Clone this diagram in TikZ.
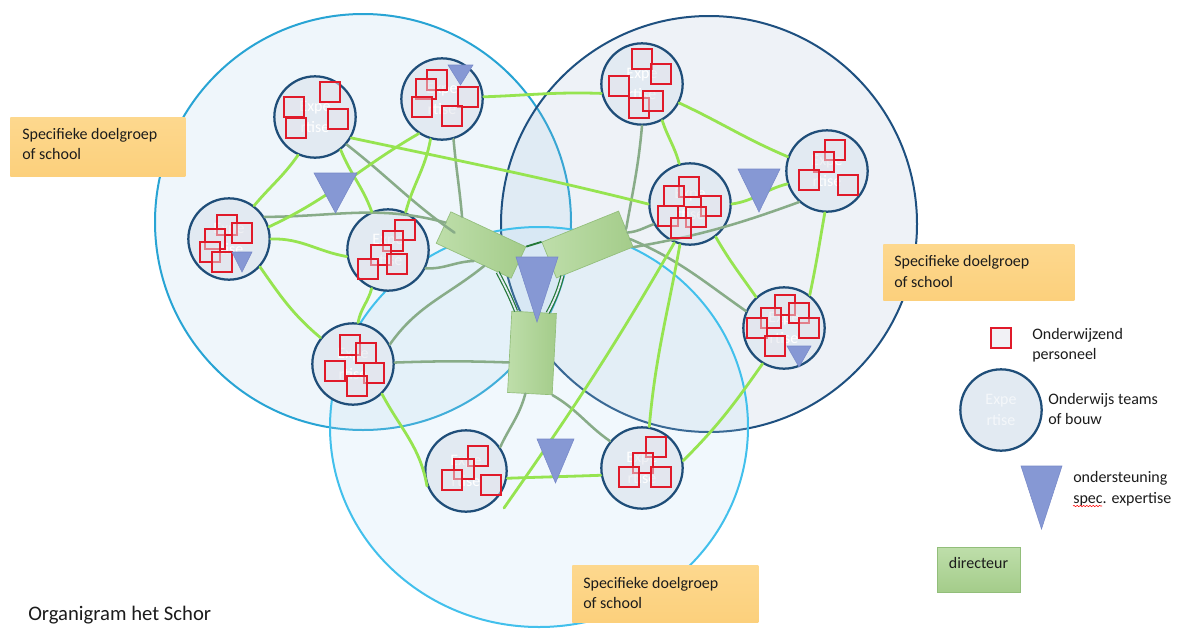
\documentclass[tikz,border=0pt]{standalone}
\usepackage{fontspec}
\setmainfont{Carlito}
\usetikzlibrary{calc,decorations.pathmorphing}
\definecolor{limeg}{RGB}{150,228,80}
\definecolor{grayg}{RGB}{136,172,136}
\definecolor{dkg}{RGB}{35,120,55}
\definecolor{teamb}{RGB}{31,78,121}
\definecolor{teamf}{RGB}{226,234,242}
\definecolor{sqred}{RGB}{224,26,42}
\definecolor{sqfill}{RGB}{228,228,236}
\definecolor{trif}{RGB}{134,152,212}
\definecolor{trid}{RGB}{118,136,200}
\definecolor{rectf}{RGB}{164,204,138}
\definecolor{rectl}{RGB}{190,222,170}
\definecolor{rectd}{RGB}{146,190,122}
\definecolor{boxo}{RGB}{252,208,124}
\definecolor{boxl}{RGB}{253,216,142}
\definecolor{txt}{RGB}{28,28,28}
\definecolor{bLb}{RGB}{40,164,212}
\definecolor{bRb}{RGB}{30,80,128}
\definecolor{bBb}{RGB}{66,192,236}
\definecolor{bLf}{RGB}{170,210,235}
\definecolor{bRf}{RGB}{150,180,210}
\definecolor{bBf}{RGB}{180,220,245}
\newcommand\mytri[4]{\filldraw[trist] (#1-#3/2,#2) -- (#1+#3/2,#2) -- (#1,#2+#4) -- cycle;}
\begin{document}
\begin{tikzpicture}[x=0.75pt,y=-0.75pt,
  bigL/.style={draw=bLb,line width=1.5pt,fill=bLf,fill opacity=0.18,draw opacity=1},
  bigR/.style={draw=bRb,line width=1.5pt,fill=bRf,fill opacity=0.16,draw opacity=1},
  bigB/.style={draw=bBb,line width=1.5pt,fill=bBf,fill opacity=0.18,draw opacity=1},
  team/.style={circle,draw=teamb,line width=1.7pt,fill=teamf,minimum size=61pt,inner sep=0pt,
    text=white,align=center,font=\fontsize{12}{15.5}\selectfont},
  tsq/.style={rectangle,draw=sqred,line width=1.5pt,fill=sqfill,fill opacity=0.5,draw opacity=1,
    minimum size=15.5pt,inner sep=0pt},
  trist/.style={fill=trif,draw=trid,line width=0.4pt},
  dir/.style={rectangle,draw=rectd,line width=0.5pt,left color=rectl,right color=rectf,inner sep=0pt},
  obox/.style={rectangle,top color=boxl,bottom color=boxo,inner sep=0pt,anchor=north west},
  lbl/.style={anchor=base west,inner sep=0pt,text=txt,font=\fontsize{12}{15}\selectfont},
  lime/.style={draw=limeg,line width=2.1pt,line cap=round},
  gline/.style={draw=grayg,line width=1.9pt,line cap=round},
  dkline/.style={draw=dkg,line width=0.9pt,double=teamf,double distance=1.3pt},
  dkone/.style={draw=dkg,line width=1.4pt}
]
\useasboundingbox (0,0) rectangle (1177,629);
\fill[white] (0,0) rectangle (1177,629);

% big circles (groups)
\path[bigL] (363,222) circle[radius=208];
\path[bigR] (709,224) circle[radius=208];
\path[bigB] (539,427) ellipse[x radius=209,y radius=200];

% team circles
\node[team] (tA) at (315,117) {Expe\\rtise};
\node[team] (tB) at (442,99) {Expe\\rtise};
\node[team] (tC) at (229,239) {Expe\\rtise};
\node[team] (tD) at (388,250) {Expe\\rtise};
\node[team] (tE) at (642,84) {Expe\\rtise};
\node[team] (tF) at (827,171) {Expe\\rtise};
\node[team] (tG) at (690,204) {Expe\\rtise};
\node[team] (tH) at (784,328) {Expe\\rtise};
\node[team] (tI) at (353,364) {Expe\\rtise};
\node[team] (tJ) at (466,471) {Expe\\rtise};
\node[team] (tK) at (642,468) {Expe\\rtise};

% directeur blocks
\node[dir,minimum width=62pt,minimum height=26pt,rotate=-25] (d1) at (481,245) {};
\node[dir,minimum width=62pt,minimum height=29pt,rotate=22] (d2) at (587.5,244.5) {};
\node[dir,minimum width=33.5pt,minimum height=61pt,rotate=-3] (d3) at (532,353) {};

% dark green links between directeur blocks
\draw[dkone] (d1.north east) -- (d2.north west);
\draw[dkline] ($(d1.south west)!0.82!(d1.south east)$) to[out=-62,in=112] ($(d3.north west)!0.1!(d3.north east)$);
\draw[dkline] ($(d2.south west)!0.08!(d2.south east)$) to[out=-105,in=62] ($(d3.north east)!0.2!(d3.north west)$);

% grey-green lines to directeur
\draw[gline] (tA.-41) to[out=-38,in=145] ($(d1.west)!0.15!(d1.east)$);
\draw[gline] (tB.-74) to[out=-85,in=95] ($(d1.north west)!0.15!(d1.north east)$);
\draw[gline] (tC.32) to[out=0,in=165] ($(d1.north west)!0.35!(d1.south west)$);
\draw[gline] (tD.-26) to[out=-3,in=182] (d1.south);
\draw[gline] (tI.28) to[out=55,in=-141] ($(d1.south west)!0.64!(d1.south east)$);
\draw[gline] (tI.2) to[out=2,in=178] ($(d3.north west)!0.63!(d3.south west)$);
\draw[gline] (tJ.35) to[out=65,in=-105] ($(d3.south west)!0.4!(d3.south east)$);
\draw[gline] (tK.140) to[out=145,in=-30] (d3.south east);
\draw[gline] (tE.-90) to[out=-95,in=80] (d2.east);
\draw[gline] (tG.-151) to[out=-160,in=5] ($(d2.north east)!0.6!(d2.south east)$);
\draw[gline] (tF.-132) to[out=-160,in=10] (d2.south east);
\draw[gline] (tH.156) to[out=145,in=-23] ($(d2.north east)!0.78!(d2.south east)$);

% light green links between teams
\coordinate (jEnd) at (504,508);
\draw[lime] (tA.-30) to[out=-12,in=166] (tG.180);
\draw[lime] (tA.-114) to[out=-125,in=50] (tC.53);
\draw[lime] (tA.-52) to[out=-68,in=110] (tD.113);
\draw[lime] (tB.-124) to[out=-150,in=25] (tC.17);
\draw[lime] (tB.-106) to[out=-100,in=75] (tD.65);
\draw[lime] (tB.3) to[out=2,in=178] (tE.-167);
\draw[lime] (tC.0) to[out=2,in=170] (tD.-171);
\draw[lime] (tC.-42) to[out=-55,in=140] (tI.141);
\draw[lime] (tD.-113) to[out=-105,in=80] (tI.83);
\draw[lime] (tI.-46) to[out=-62,in=100] (tJ.-159);
\draw[lime] (tJ.-10) to[out=2,in=182] (tK.190);
\draw[lime] (tG.-112) to[out=-120,in=55] (jEnd);
\draw[lime] (tG.-104) to[out=-100,in=85] (tK.80);
\draw[lime] (tE.-61) to[out=-72,in=105] (tG.105);
\draw[lime] (tE.-27) to[out=-25,in=157] (tF.160);
\draw[lime] (tG.0) to[out=8,in=-166] (tF.-162);
\draw[lime] (tF.-93) to[out=-100,in=78] (tH.52);
\draw[lime] (tG.-52) to[out=-60,in=125] (tH.132);
\draw[lime] (tH.-121) to[out=-125,in=45] (tK.10);

% teaching staff squares
\foreach \qx/\qy [count=\i] in {294/107,296/128,330/92,338/119,
  437/80,426/89,422/107,468/97,452/116,
  227/225,242/233,215/239,210/252,222/262,
  405/230,393/241,381/255,397/264,368/269,
  642/59,661/74,619/86,639/108,653/101,
  835/150,824/162,809/180,848/185,
  689/187,674/196,711/206,696/217,668/216,681/228,
  785/305,799/313,771/318,757/328,809/328,775/346,
  350/345,366/353,335/371,374/373,357/386,
  478/456,464/469,452/480,491/485,
  656/447,643/463,629/477,661/477}
{ \node[tsq] (sq\i) at (\qx,\qy) {}; }

% support triangles
\mytri{537}{257}{42}{65}
\mytri{335.5}{173}{43}{40}
\mytri{460.5}{65}{25}{20}
\mytri{242}{252}{20}{20}
\mytri{759}{169}{42}{43}
\mytri{799}{346}{24}{21}
\mytri{555.5}{439}{37}{44}

% group labels
\node[obox,minimum width=131.25pt,minimum height=44.25pt] (box1) at (10,117) {};
\node[lbl] (box1a) at (22,139) {Specifieke doelgroep};
\node[lbl] (box1b) at (22,159) {of school};
\node[obox,minimum width=143.25pt,minimum height=42pt] (box2) at (883,244) {};
\node[lbl] (box2a) at (894,266) {Specifieke doelgroep};
\node[lbl] (box2b) at (894,287) {of school};
\node[obox,minimum width=139.5pt,minimum height=42.75pt] (box3) at (572,565) {};
\node[lbl] (box3a) at (583,588) {Specifieke doelgroep};
\node[lbl] (box3b) at (583,608) {of school};

% legend
\node[tsq] (lsq) at (1001,338) {};
\node[lbl] (l1a) at (1032,339) {Onderwijzend};
\node[lbl] (l1b) at (1032,359) {personeel};
\node[team,text=teamf!40!white] (lcirc) at (1001,410) {Expe\\rtise};
\node[lbl] (l2a) at (1048,404) {Onderwijs teams};
\node[lbl] (l2b) at (1048,424) {of bouw};
\mytri{1041.5}{466}{41}{63}
\node[lbl] (l3a) at (1073,482) {ondersteuning};
\node[lbl] (l3b) at (1073,503) {spec. expertise};
\draw[red,line width=0.4pt,decorate,decoration={snake,amplitude=0.5pt,segment length=2.4pt}] (1073,506) -- (1102,506);
\node[rectangle,draw=rectd,line width=0.4pt,top color=rectl,bottom color=rectf,minimum width=62.25pt,minimum height=33.75pt,inner sep=0pt,anchor=north west] (ldir) at (937,547) {};
\node[anchor=base,inner sep=0pt,text=txt,font=\fontsize{12}{15}\selectfont] (ldirt) at (978.5,568) {directeur};

% title
\node[anchor=base west,inner sep=0pt,text=txt,font=\fontsize{15.5}{18}\selectfont] (title) at (28,620) {Organigram het Schor};
\end{tikzpicture}
\end{document}
